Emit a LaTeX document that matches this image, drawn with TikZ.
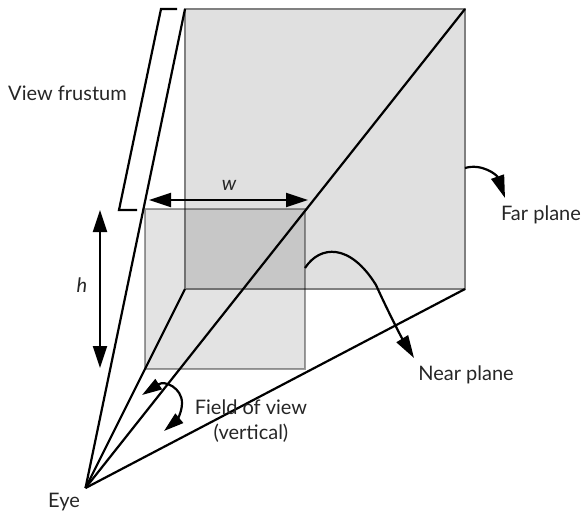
\documentclass[tikz,border=0pt]{standalone}
\usepackage{fontspec}
\setmainfont{Lato}
\usetikzlibrary{arrows.meta}
\definecolor{PlaneFill}{HTML}{E0E0E0}
\definecolor{PlaneLine}{HTML}{808080}
\tikzset{
  label text/.style={font=\fontsize{15}{18.75}\selectfont,text=black!85,inner sep=0pt},
  frustum line/.style={black,line width=1.65pt,line join=miter},
  double tip/.style={{Triangle[length=16.5pt,width=10.5pt]}-{Triangle[length=16.5pt,width=10.5pt]}},
  small tip/.style={-{Triangle[length=17pt,width=10pt]}},
  small double/.style={{Triangle[length=15pt,width=9pt]}-{Triangle[length=15pt,width=9pt]}},
}
\begin{document}
\begin{tikzpicture}[x=0.75pt,y=-0.75pt]
  \useasboundingbox (0,0) rectangle (585,515);
  % planes
  \coordinate (farTL) at (185,9);
  \coordinate (farTR) at (465,9);
  \coordinate (farBL) at (185,289);
  \coordinate (farBR) at (465,289);
  \coordinate (eyePoint) at (85.5,488);
  \draw[PlaneLine,fill=PlaneFill,line width=2pt] (farTL) rectangle (farBR);
  \draw[fill=black,fill opacity=.11,draw=black,draw opacity=.38,line width=2pt]
    (145,209) rectangle (305,369);
  % lines from the eye
  \draw[frustum line] (eyePoint) -- (farTL);
  \draw[frustum line] (eyePoint) -- (farBL);
  \draw[frustum line] (eyePoint) -- (farTR);
  \draw[frustum line] (eyePoint) -- (farBR);
  % bracket
  \draw[frustum line] (177,9) -- (161,9) -- (119,210) -- (137,210);
  % sizes
  \coordinate (wLeft) at (149,200);
  \coordinate (wRight) at (308,200);
  \coordinate (hTop) at (100,210);
  \coordinate (hBottom) at (100,368);
  \draw[frustum line,double tip] (wLeft) -- (wRight);
  \draw[frustum line,double tip] (hTop) -- (hBottom);
  % labels
  \node[label text] (viewLabel) at (67.5,93) {View frustum};
  \node[label text,font=\fontsize{15}{18.75}\selectfont\itshape] (wLabel) at (229,185) {w};
  \node[label text,font=\fontsize{15}{18.75}\selectfont\itshape] (hLabel) at (82,285) {h};
  \node[label text] (farLabel) at (541,215) {Far plane};
  \node[label text] (nearLabel) at (466,375) {Near plane};
  \node[label text,align=center] (fovLabel) at (251,421) {Field of view\\(vertical)};
  \node[label text] (eyeLabel) at (64,502) {Eye};
  % pointers
  \coordinate (farStart) at (465,168);
  \coordinate (nearStart) at (305,268);
  \coordinate (fovOne) at (142,395);
  \coordinate (fovTwo) at (164,431);
  \draw[frustum line,small tip] (farStart) .. controls (482,163) and (497,175) .. (505,198);
  \draw[frustum line,small tip] (nearStart) .. controls (320,245) and (350,243) .. (376,285)
    .. controls (385,305) and (400,335) .. (414,358);
  \draw[frustum line,small double] (fovOne) .. controls (165,380) and (182,388) .. (182,403)
    .. controls (182,413) and (176,421) .. (fovTwo);
\end{tikzpicture}
\end{document}
